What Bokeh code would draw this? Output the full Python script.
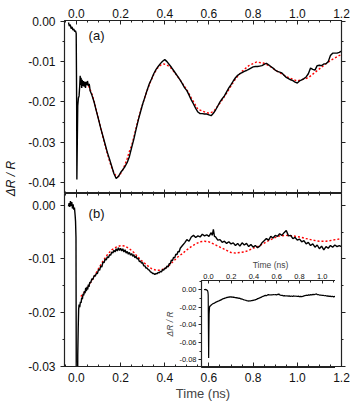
from bokeh.plotting import figure
from bokeh.models import (Range1d, SingleIntervalTicker, NumeralTickFormatter, LinearAxis,
                          Label, Title, Plot, CustomLabelingPolicy)
from bokeh.layouts import row, column
from bokeh.embed import file_html
from bokeh.resources import INLINE

FONT = "Liberation Sans"

# ---------------- data ----------------
# panel (a): measured trace
t_a = [-0.036, -0.032, -0.028, -0.024, -0.020, -0.016, -0.012, -0.008, -0.004, -0.001,
       0.001, 0.002, 0.004, 0.006, 0.009, 0.012, 0.015, 0.017, 0.019, 0.021, 0.024, 0.026,
       0.029, 0.032, 0.035, 0.038, 0.041, 0.044, 0.047, 0.050, 0.054, 0.058, 0.062,
       0.07, 0.08, 0.09, 0.10, 0.11, 0.12, 0.13, 0.14, 0.15, 0.16, 0.17, 0.18, 0.19, 0.20,
       0.21, 0.22, 0.23, 0.24, 0.25, 0.26, 0.27, 0.28, 0.29, 0.30, 0.31, 0.32, 0.33, 0.34,
       0.35, 0.36, 0.37, 0.38, 0.39, 0.40, 0.41, 0.42, 0.43, 0.44, 0.45, 0.46, 0.47, 0.48,
       0.49, 0.50, 0.51, 0.52, 0.53, 0.54, 0.55, 0.56, 0.57, 0.58, 0.59, 0.60, 0.61, 0.62,
       0.63, 0.64, 0.65, 0.66, 0.67, 0.68, 0.69, 0.70, 0.71, 0.72, 0.73, 0.74, 0.75, 0.76,
       0.77, 0.78, 0.79, 0.80, 0.81, 0.82, 0.83, 0.84, 0.85, 0.86, 0.87, 0.88, 0.89, 0.90,
       0.91, 0.92, 0.93, 0.94, 0.95, 0.96, 0.97, 0.98, 0.99, 1.00, 1.01, 1.02, 1.03, 1.04,
       1.05, 1.06, 1.07, 1.08, 1.09, 1.10, 1.11, 1.12, 1.13, 1.14, 1.15, 1.16, 1.17, 1.18,
       1.19, 1.20]
r_a = [-0.0003, -0.0012, -0.0008, -0.0018, -0.0014, -0.0022, -0.0019, -0.0025, -0.0024, -0.0030,
       -0.0200, -0.0392, -0.0300, -0.0210, -0.0190, -0.0185, -0.0160, -0.0135, -0.0158, -0.0140,
       -0.0165, -0.0145, -0.0160, -0.0148, -0.0162, -0.0150, -0.0165, -0.0150, -0.0158, -0.0148,
       -0.0160, -0.0155, -0.0172,
       -0.0183, -0.0200, -0.0222, -0.0243, -0.0265, -0.0285, -0.0305, -0.0325, -0.0342, -0.0360,
       -0.0378, -0.0390, -0.0385, -0.0375, -0.0368, -0.0360, -0.0350, -0.0335, -0.0313, -0.0292,
       -0.0268, -0.0245, -0.0225, -0.0205, -0.0188, -0.0171, -0.0155, -0.0143, -0.0130, -0.0120,
       -0.0112, -0.0105, -0.0099, -0.0095, -0.0100, -0.0107, -0.0114, -0.0122, -0.0130, -0.0138,
       -0.0146, -0.0155, -0.0165, -0.0172, -0.0183, -0.0195, -0.0205, -0.0216, -0.0225, -0.0229,
       -0.0229, -0.0230, -0.0230, -0.0232, -0.0234, -0.0228, -0.0220, -0.0210, -0.0200, -0.0192,
       -0.0185, -0.0175, -0.0165, -0.0157, -0.0148, -0.0140, -0.0134, -0.0130, -0.0127, -0.0124,
       -0.0122, -0.0119, -0.0116, -0.0113, -0.0112, -0.0112, -0.0111, -0.0110, -0.0107, -0.0104,
       -0.0108, -0.0112, -0.0116, -0.0121, -0.0124, -0.0126, -0.0128, -0.0134, -0.0139, -0.0142,
       -0.0145, -0.0147, -0.0151, -0.0153, -0.0148, -0.0145, -0.0142, -0.0138, -0.0130, -0.0116,
       -0.0119, -0.0121, -0.0110, -0.0109, -0.0110, -0.0106, -0.0105, -0.0100, -0.0085, -0.0079,
       -0.0079, -0.0079, -0.0077, -0.0074]

# panel (a): fit
tf_a = [0.055, 0.07, 0.08, 0.09, 0.10, 0.11, 0.12, 0.13, 0.14, 0.15, 0.16, 0.17, 0.18, 0.19,
        0.20, 0.21, 0.22, 0.23, 0.24, 0.25, 0.26, 0.27, 0.28, 0.29, 0.30, 0.31, 0.32, 0.33,
        0.34, 0.35, 0.36, 0.37, 0.38, 0.395, 0.41, 0.43, 0.45, 0.47, 0.50, 0.52, 0.55, 0.585,
        0.60, 0.62, 0.65, 0.68, 0.70, 0.72, 0.75, 0.78, 0.815, 0.85, 0.88, 0.90, 0.95, 1.00,
        1.05, 1.10, 1.15, 1.20]
f_a = [-0.0160, -0.0180, -0.0198, -0.0220, -0.0242, -0.0265, -0.0287, -0.0308, -0.0328, -0.0347,
       -0.0363, -0.0376, -0.0384, -0.0385, -0.0378, -0.0368, -0.0355, -0.0340, -0.0322, -0.0308,
       -0.0287, -0.0265, -0.0243, -0.0223, -0.0205, -0.0188, -0.0172, -0.0157, -0.0144, -0.0132,
       -0.0122, -0.0114, -0.0109, -0.0106, -0.0108, -0.0117, -0.0131, -0.0146, -0.0170, -0.0190,
       -0.0218, -0.0226, -0.0228, -0.0224, -0.0203, -0.0178, -0.0160, -0.0143, -0.0124, -0.0110,
       -0.0101, -0.0104, -0.0113, -0.0121, -0.0137, -0.0148, -0.0140, -0.0118, -0.0097, -0.0082]

# panel (b) and inset: measured trace
t_b = [-0.036, -0.033, -0.030, -0.027, -0.024, -0.021, -0.018, -0.015, -0.012, -0.009, -0.006,
       -0.004, -0.002, 0.000, 0.002, 0.004, 0.006, 0.008, 0.010, 0.012, 0.015, 0.018, 0.021,
       0.024, 0.027, 0.030, 0.033, 0.036, 0.039, 0.042, 0.045, 0.048, 0.051, 0.054, 0.057,
       0.060, 0.065, 0.070, 0.075, 0.080, 0.085, 0.090, 0.095, 0.100, 0.105, 0.110, 0.115,
       0.120, 0.125, 0.130, 0.135, 0.140, 0.145, 0.150, 0.155, 0.160, 0.165, 0.170, 0.175,
       0.180, 0.185, 0.190, 0.195, 0.200, 0.205, 0.210, 0.215, 0.220, 0.225, 0.230, 0.235,
       0.240, 0.245, 0.250, 0.255, 0.260, 0.265, 0.270, 0.275, 0.280, 0.285, 0.290, 0.295,
       0.300, 0.305, 0.310, 0.315, 0.320, 0.325, 0.330, 0.335, 0.340, 0.345, 0.350, 0.355,
       0.360, 0.365, 0.370, 0.375, 0.380, 0.385, 0.390, 0.395, 0.400, 0.405, 0.410, 0.415,
       0.420, 0.425, 0.430, 0.435, 0.440, 0.445, 0.450, 0.455, 0.460, 0.465, 0.470, 0.48,
       0.49, 0.50, 0.51, 0.52, 0.53, 0.54, 0.55, 0.56, 0.57, 0.58, 0.59, 0.60, 0.61, 0.615,
       0.62, 0.625, 0.63, 0.64, 0.65, 0.66, 0.67, 0.68, 0.69, 0.70, 0.71, 0.72, 0.73, 0.74,
       0.75, 0.76, 0.77, 0.78, 0.79, 0.80, 0.81, 0.82, 0.83, 0.84, 0.85, 0.86, 0.87, 0.88,
       0.89, 0.90, 0.91, 0.92, 0.93, 0.94, 0.95, 0.96, 0.97, 0.98, 0.99, 1.00, 1.01, 1.02,
       1.03, 1.04, 1.05, 1.06, 1.07, 1.08, 1.09, 1.10, 1.11, 1.12, 1.13, 1.14, 1.15, 1.16,
       1.17, 1.18, 1.19, 1.20]
r_b = [-0.0002, 0.0004, -0.0003, 0.0008, -0.0001, 0.0006, -0.0006, 0.0002, -0.0008, -0.0004,
       -0.0018, -0.0030, -0.0060, -0.0450, -0.0780, -0.0500, -0.0280, -0.0230, -0.0195, -0.0185,
       -0.0190, -0.0180, -0.0182, -0.0172, -0.0175, -0.0165, -0.0168, -0.0160, -0.0164, -0.0154,
       -0.0160, -0.0152, -0.0157, -0.0148, -0.0152, -0.0144, -0.0144, -0.0137, -0.0138, -0.0131,
       -0.0132, -0.0127, -0.0127, -0.0120, -0.0121, -0.0113, -0.0115, -0.0106, -0.0107, -0.0100,
       -0.0102, -0.0096, -0.0098, -0.0092, -0.0093, -0.0087, -0.0089, -0.0084, -0.0087, -0.0081,
       -0.0085, -0.0079, -0.0084, -0.0080, -0.0085, -0.0081, -0.0087, -0.0083, -0.0089, -0.0086,
       -0.0091, -0.0088, -0.0093, -0.0090, -0.0095, -0.0092, -0.0098, -0.0095, -0.0100, -0.0099,
       -0.0105, -0.0104, -0.0108, -0.0107, -0.0113, -0.0113, -0.0117, -0.0117, -0.0120, -0.0121,
       -0.0124, -0.0125, -0.0127, -0.0127, -0.0129, -0.0127, -0.0128, -0.0125, -0.0126, -0.0123,
       -0.0124, -0.0120, -0.0121, -0.0117, -0.0118, -0.0113, -0.0115, -0.0109, -0.0109, -0.0102,
       -0.0103, -0.0097, -0.0098, -0.0091, -0.0092, -0.0086, -0.0087, -0.0080, -0.0075, -0.0070,
       -0.0064, -0.0067, -0.0059, -0.0056, -0.0060, -0.0057, -0.0059, -0.0054, -0.0057, -0.0055,
       -0.0058, -0.0051, -0.0056, -0.0045, -0.0058, -0.0059, -0.0065, -0.0064, -0.0069, -0.0067,
       -0.0071, -0.0068, -0.0072, -0.0070, -0.0075, -0.0071, -0.0076, -0.0070, -0.0074, -0.0071,
       -0.0077, -0.0073, -0.0078, -0.0075, -0.0079, -0.0076, -0.0070, -0.0066, -0.0062, -0.0065,
       -0.0058, -0.0061, -0.0056, -0.0058, -0.0053, -0.0056, -0.0051, -0.0047, -0.0057, -0.0056,
       -0.0062, -0.0060, -0.0065, -0.0063, -0.0068, -0.0066, -0.0072, -0.0069, -0.0075, -0.0072,
       -0.0078, -0.0074, -0.0081, -0.0076, -0.0083, -0.0077, -0.0080, -0.0075, -0.0078, -0.0074,
       -0.0077, -0.0075, -0.0077]

# panel (b): fit
tf_b = [0.02, 0.04, 0.06, 0.08, 0.10, 0.12, 0.14, 0.16, 0.18, 0.20, 0.22, 0.24, 0.26, 0.28,
        0.30, 0.32, 0.34, 0.36, 0.38, 0.40, 0.42, 0.44, 0.46, 0.48, 0.50, 0.52, 0.54, 0.56,
        0.58, 0.60, 0.62, 0.64, 0.66, 0.68, 0.70, 0.72, 0.74, 0.76, 0.78, 0.80, 0.82, 0.84,
        0.86, 0.88, 0.90, 0.92, 0.95, 0.98, 1.01, 1.04, 1.07, 1.10, 1.13, 1.16, 1.20]
f_b = [-0.0170, -0.0160, -0.0147, -0.0133, -0.0118, -0.0104, -0.0092, -0.0083, -0.0078, -0.0075,
       -0.0076, -0.0081, -0.0088, -0.0097, -0.0105, -0.0112, -0.0118, -0.0121, -0.0121, -0.0118,
       -0.0112, -0.0104, -0.0096, -0.0090, -0.0083, -0.0077, -0.0072, -0.0068, -0.0067, -0.0068,
       -0.0072, -0.0076, -0.0080, -0.0084, -0.0088, -0.0089, -0.0088, -0.0087, -0.0084, -0.0080,
       -0.0077, -0.0073, -0.0068, -0.0064, -0.0060, -0.0057, -0.0056, -0.0057, -0.0059, -0.0062,
       -0.0065, -0.0067, -0.0067, -0.0065, -0.0062]

# axis settings
x_main = (-0.054, 1.2001)
y_a = (-0.0427, 0.0002)
y_b = (-0.03005, 0.0022)
x_ins = (-0.061, 1.153)
y_ins = (-0.0888, 0.0106)

AXC = "#222222"
NO_LABELS = CustomLabelingPolicy(
    code="for (const i of Array.from(indices)) { indices.unset(i) } return indices")


def style_axis(ax, xdir, labels=True, size="12px"):
    ax.axis_line_color = AXC
    ax.axis_line_width = 1.2
    ax.major_tick_line_color = AXC
    ax.minor_tick_line_color = AXC
    if xdir:
        ax.major_tick_in, ax.major_tick_out = 4, 0
        ax.minor_tick_in, ax.minor_tick_out = 2, 0
    else:
        ax.major_tick_in, ax.major_tick_out = 0, 4
        ax.minor_tick_in, ax.minor_tick_out = 0, 2
    ax.major_label_text_font = FONT
    ax.major_label_text_color = "#111111"
    ax.axis_label_text_font = FONT
    ax.axis_label_text_font_style = "normal"
    if labels:
        ax.major_label_text_font_size = size
    else:
        ax.major_label_text_font_size = "0px"
        ax.major_label_policy = NO_LABELS
        ax.major_label_standoff = 0


def xt():
    return SingleIntervalTicker(interval=0.2, num_minor_ticks=4)


def yt():
    return SingleIntervalTicker(interval=0.01, num_minor_ticks=2)


xr = Range1d(*x_main)

# ---------------- top panel (a) ----------------
p1 = figure(width=331, height=193, x_range=xr, y_range=Range1d(*y_a),
            output_backend="svg", toolbar_location=None, x_axis_location="above",
            min_border_left=44, min_border_right=10, min_border_top=20, min_border_bottom=0,
            outline_line_color=AXC)
p1.grid.visible = False
p1.xaxis.ticker = xt()
p1.xaxis.formatter = NumeralTickFormatter(format="0.0")
p1.yaxis.ticker = yt()
p1.yaxis.formatter = NumeralTickFormatter(format="0.00")
style_axis(p1.xaxis[0], True)
p1.xaxis[0].major_label_standoff = 3
style_axis(p1.yaxis[0], False)
ab = LinearAxis(ticker=xt())
style_axis(ab, True, labels=False)
p1.add_layout(ab, "below")
ar = LinearAxis(ticker=yt())
style_axis(ar, False, labels=False)
p1.add_layout(ar, "right")
p1.line(tf_a, f_a, line_color="red", line_width=1.4, line_dash="2 2")
p1.line(t_a, r_a, line_color="black", line_width=1.4)
p1.add_layout(Label(x=0.055, y=-0.0036, text="(a)", text_font=FONT, text_font_size="13px",
                    text_baseline="middle", text_color="#111111"))

# ---------------- bottom panel (b) ----------------
p2 = figure(width=331, height=210, x_range=xr, y_range=Range1d(*y_b),
            output_backend="svg", toolbar_location=None,
            min_border_left=44, min_border_right=10, min_border_top=0, min_border_bottom=36,
            outline_line_color=AXC)
p2.grid.visible = False
p2.xaxis.ticker = xt()
p2.xaxis.formatter = NumeralTickFormatter(format="0.0")
p2.yaxis.ticker = yt()
p2.yaxis.formatter = NumeralTickFormatter(format="0.00")
style_axis(p2.xaxis[0], True)
p2.xaxis[0].major_label_standoff = 6
p2.xaxis[0].axis_label = "Time (ns)"
p2.xaxis[0].axis_label_text_font_size = "13px"
p2.xaxis[0].axis_label_standoff = 1
style_axis(p2.yaxis[0], False)
bt = LinearAxis(ticker=xt())
style_axis(bt, True, labels=False)
p2.add_layout(bt, "above")
br = LinearAxis(ticker=yt())
style_axis(br, False, labels=False)
p2.add_layout(br, "right")
p2.line(tf_b, f_b, line_color="red", line_width=1.4, line_dash="2 2")
p2.line(t_b, r_b, line_color="black", line_width=1.4)
p2.add_layout(Label(x=0.055, y=-0.0015, text="(b)", text_font=FONT, text_font_size="13px",
                    text_baseline="middle", text_color="#111111"))

# ---------------- inset ----------------
p3 = figure(frame_width=138, frame_height=87, x_range=Range1d(*x_ins), y_range=Range1d(*y_ins),
            output_backend="svg", toolbar_location=None, x_axis_location="above",
            min_border_left=33, min_border_right=1, min_border_top=25, min_border_bottom=1,
            background_fill_color=None, border_fill_color=None, outline_line_color=AXC,
            margin=(-148, 0, 0, 137))
p3.grid.visible = False
p3.xaxis.ticker = SingleIntervalTicker(interval=0.2, num_minor_ticks=2)
p3.xaxis.formatter = NumeralTickFormatter(format="0.0")
p3.yaxis.ticker = SingleIntervalTicker(interval=0.02, num_minor_ticks=2)
p3.yaxis.formatter = NumeralTickFormatter(format="0.00")
style_axis(p3.xaxis[0], True, size="7.5px")
style_axis(p3.yaxis[0], False, size="7.5px")
p3.xaxis[0].major_tick_in, p3.xaxis[0].major_tick_out = 3, 0
p3.yaxis[0].major_tick_in, p3.yaxis[0].major_tick_out = 0, 3
for ax in (p3.xaxis[0], p3.yaxis[0]):
    ax.major_label_standoff = 2
    ax.axis_label_standoff = 1
    ax.axis_label_text_font_size = "8.5px"
p3.xaxis[0].axis_label = "Time (ns)"
p3.yaxis[0].axis_label = "ΔR / R"
p3.yaxis[0].axis_label_text_font_style = "italic"
p3.line(t_b, r_b, line_color="black", line_width=1.2)

# ---------------- shared y label ----------------
lab = Plot(width=20, height=356, toolbar_location=None, min_border_left=17, min_border_right=0,
           min_border_top=0, min_border_bottom=0, outline_line_color=None, output_backend="svg")
lab.add_layout(Title(text="ΔR / R", align="center", text_font=FONT, text_font_size="12px",
                     text_font_style="italic", text_color="#111111", standoff=0), "left")

layout = row(lab, column(p1, p2, p3, spacing=0), spacing=0)

open("out.html", "w").write(file_html(layout, INLINE))
